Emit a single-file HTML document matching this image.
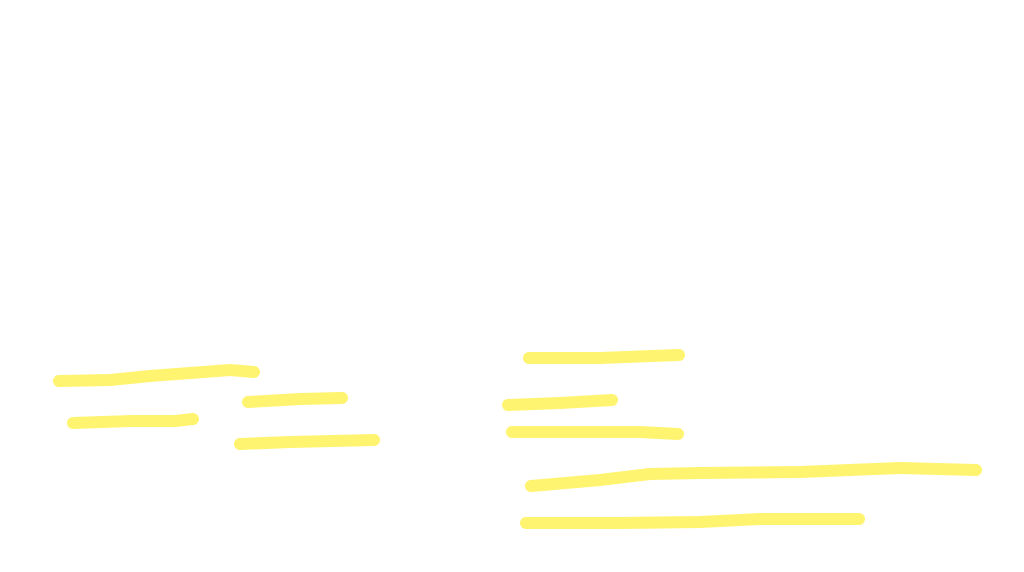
<!DOCTYPE html>
<html><head><meta charset="utf-8"><style>
html,body{margin:0;padding:0;background:#fff;width:1024px;height:572px;overflow:hidden}
</style></head><body>
<svg width="1024" height="572" viewBox="0 0 1024 572" xmlns="http://www.w3.org/2000/svg">
<g fill="none" stroke="#FFF46F" stroke-width="12" stroke-linecap="round" stroke-linejoin="round">
<polyline points="59,381 110,380 150,376 230,370 254,372"/>
<polyline points="248,402 300,399 342,398"/>
<polyline points="73,423 130,421 175,421 193,419"/>
<polyline points="240,444 290,442 374,440"/>
<polyline points="529,358 600,358 679,355"/>
<polyline points="508,405 560,403 612,400"/>
<polyline points="512,432 580,432 640,432 678,434"/>
<polyline points="531,486 600,480 650,474 700,473 800,472 900,468 976,470"/>
<polyline points="526,523 620,523 700,522 760,519 859,519"/>
</g>
</svg>
</body></html>
